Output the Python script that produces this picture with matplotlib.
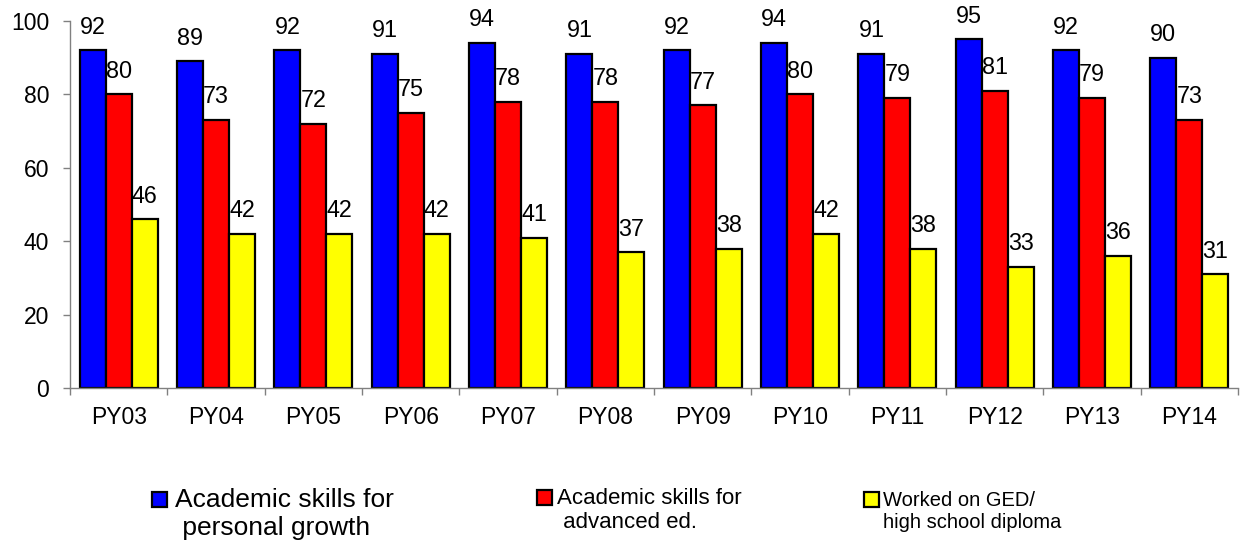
import numpy as np
import matplotlib
matplotlib.use("Agg")
import matplotlib.pyplot as plt
from matplotlib.patches import Rectangle
from matplotlib.container import BarContainer
from matplotlib.legend_handler import HandlerPatch, update_from_first_child

plt.rcParams['font.family'] = ['Liberation Sans', 'DejaVu Sans']

# data
years = ['PY03', 'PY04', 'PY05', 'PY06', 'PY07', 'PY08',
         'PY09', 'PY10', 'PY11', 'PY12', 'PY13', 'PY14']
personal = [92, 89, 92, 91, 94, 91, 92, 94, 91, 95, 92, 90]
advanced = [80, 73, 72, 75, 78, 78, 77, 80, 79, 81, 79, 73]
ged = [46, 42, 42, 42, 41, 37, 38, 42, 38, 33, 36, 31]

series = [personal, advanced, ged]
colors = ['#0000FF', '#FF0000', '#FFFF00']
labels = ['Academic skills for\n personal growth',
          'Academic skills for\n advanced ed.',
          'Worked on GED/\nhigh school diploma']

W, H = 1243, 543
fig = plt.figure(figsize=(W / 100, H / 100), dpi=100)
ax = fig.add_axes([70 / W, 1 - 388 / H, (1238 - 70) / W, (388 - 21) / H])

x = np.arange(len(years))
bw = 0.8 / 3
bars = []
for i, (vals, col) in enumerate(zip(series, colors)):
    b = ax.bar(x + (i - 1) * bw, vals, bw, color=col, edgecolor='black', linewidth=1.6)
    bars.append(b)
    for xi, v in zip(x + (i - 1) * bw, vals):
        ax.annotate(str(v), (xi, v), xytext=(0, 12), textcoords='offset points',
                    ha='center', va='baseline', fontsize=16.8)

ax.set_xlim(-0.5, len(years) - 0.5)
ax.set_ylim(0, 100)
ax.set_yticks(range(0, 101, 20))
ax.set_xticks(x)
ax.set_xticklabels(years)
ax.set_xticks(np.arange(-0.5, len(years), 1), minor=True)
ax.tick_params(axis='x', which='major', length=0, pad=13, labelsize=16.5)
ax.tick_params(axis='x', which='minor', length=5, width=1, color='#808080', direction='out')
ax.tick_params(axis='y', length=5, width=1, color='#808080', pad=10, labelsize=16.5)
for s in ['top', 'right']:
    ax.spines[s].set_visible(False)
for s in ['left', 'bottom']:
    ax.spines[s].set_color('#808080')
    ax.spines[s].set_linewidth(1)


def square_on_first_line(legend, orig_handle, xdescent, ydescent, width, height, fontsize):
    # put the square next to the first line of the two-line label
    return Rectangle((0, 0.62 * fontsize), width, width)


sq = 10.5  # points
legend_specs = [(bars[0], labels[0], 19, 152, 488, 6.0),
                (bars[1], labels[1], 16, 537, 488, 4.0),
                (bars[2], labels[2], 14.5, 864, 491, 3.0)]
for handle, lab, fs, px, py, tpad in legend_specs:
    fig.legend([handle], [lab], loc='upper left',
               bbox_to_anchor=(px / W, 1 - py / H), frameon=False,
               fontsize=fs, borderpad=0, borderaxespad=0,
               handlelength=sq / fs, handleheight=0.7,
               handletextpad=tpad / fs,
               handler_map={BarContainer: HandlerPatch(patch_func=square_on_first_line,
                                                       update_func=update_from_first_child)})

fig.savefig('out.png', dpi=100)
